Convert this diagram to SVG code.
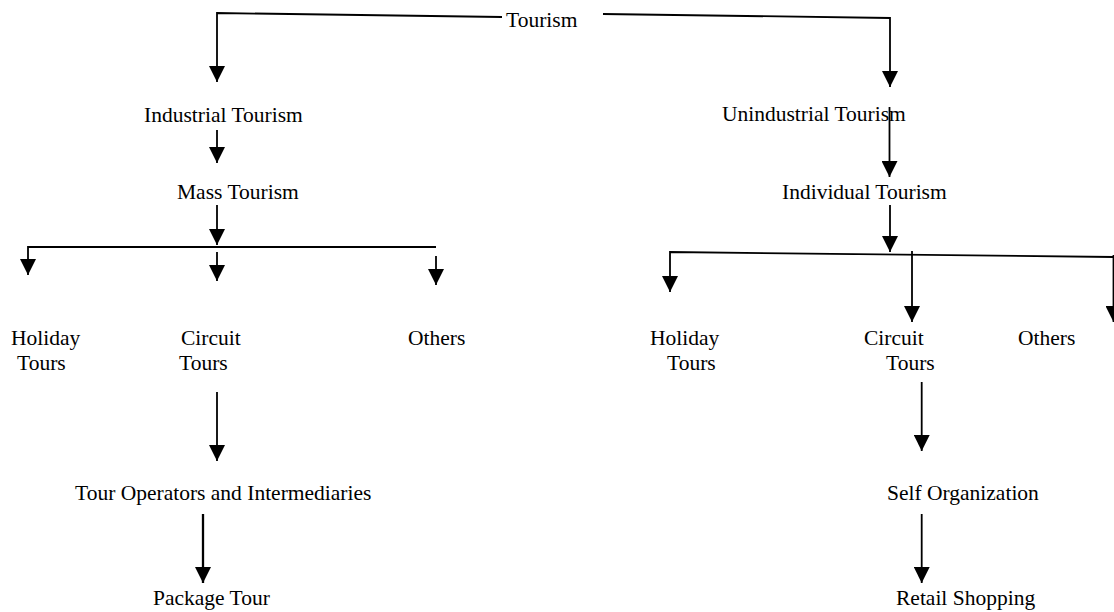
<svg xmlns="http://www.w3.org/2000/svg" width="1114" height="612" viewBox="0 0 1114 612">
<style>
  text { font-family: "Liberation Serif", "Times New Roman", serif; font-size: 21.5px; fill: #000; }
  .c { fill: none; stroke: #000; stroke-width: 1.8; }
  .t { stroke-width: 2.3; }
</style>
<defs>
  <marker id="ah" viewBox="0 0 16 16" markerWidth="16" markerHeight="16" markerUnits="userSpaceOnUse" refX="16" refY="8" orient="auto">
    <path d="M0,0 L16,8 L0,16 z" fill="#000"/>
  </marker>
</defs>
<rect width="1114" height="612" fill="#fff"/>
<g id="connectors">
  <path class="c" d="M502,17 L217,13 L217,82" marker-end="url(#ah)"/>
  <path class="c" d="M603,14 L890,18 L890,87" marker-end="url(#ah)"/>
  <path class="c" d="M217,130 L217,163" marker-end="url(#ah)"/>
  <path class="c" d="M889.5,107 L889.5,177" marker-end="url(#ah)"/>
  <path class="c" d="M217,205 L217,245" marker-end="url(#ah)"/>
  <path class="c" d="M436,247 L28,247 L28,275" marker-end="url(#ah)"/>
  <path class="c" d="M217,252 L217,281" marker-end="url(#ah)"/>
  <path class="c" d="M436,256 L436,285" marker-end="url(#ah)"/>
  <path class="c" d="M217,392 L217,461" marker-end="url(#ah)"/>
  <path class="c t" d="M203,514 L203,583" marker-end="url(#ah)"/>
  <path class="c" d="M890,205 L890,252" marker-end="url(#ah)"/>
  <path class="c" d="M1113.5,257 L670,252 L670,292" marker-end="url(#ah)"/>
  <path class="c" d="M912,251 L912,322" marker-end="url(#ah)"/>
  <path class="c" d="M1113.5,255 L1113.5,322" marker-end="url(#ah)"/>
  <path class="c" d="M921.7,382 L921.7,451" marker-end="url(#ah)"/>
  <path class="c" d="M921.7,514 L921.7,583" marker-end="url(#ah)"/>
</g>
<g id="n-tourism"><text x="506" y="27">Tourism</text></g>
<g id="n-industrial"><text x="144" y="122">Industrial Tourism</text></g>
<g id="n-unindustrial"><text x="722" y="121">Unindustrial Tourism</text></g>
<g id="n-mass"><text x="177" y="199">Mass Tourism</text></g>
<g id="n-individual"><text x="782" y="199">Individual Tourism</text></g>
<g id="n-holiday-l"><text x="11" y="345">Holiday</text><text x="17" y="370">Tours</text></g>
<g id="n-circuit-l"><text x="181" y="345">Circuit</text><text x="179" y="370">Tours</text></g>
<g id="n-others-l"><text x="408" y="345">Others</text></g>
<g id="n-holiday-r"><text x="650" y="345">Holiday</text><text x="667" y="370">Tours</text></g>
<g id="n-circuit-r"><text x="864" y="345">Circuit</text><text x="886" y="370">Tours</text></g>
<g id="n-others-r"><text x="1018" y="345">Others</text></g>
<g id="n-operators"><text x="75" y="500">Tour Operators and Intermediaries</text></g>
<g id="n-package"><text x="153" y="605">Package Tour</text></g>
<g id="n-self"><text x="887" y="500">Self Organization</text></g>
<g id="n-retail"><text x="896" y="605">Retail Shopping</text></g>
</svg>
